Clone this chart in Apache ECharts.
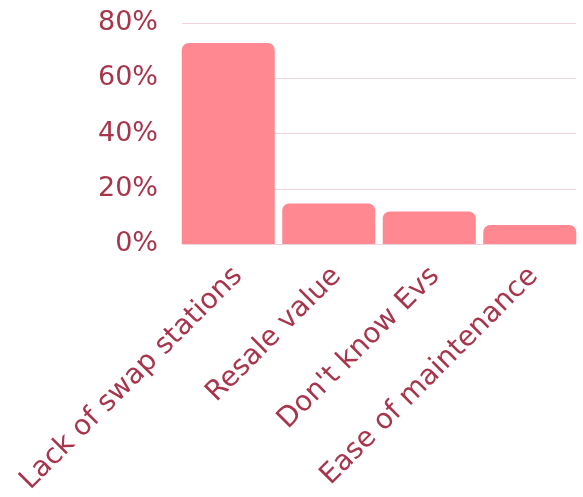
<!DOCTYPE html>
<html>
<head>
<meta charset="utf-8">
<script src="https://cdn.jsdelivr.net/npm/echarts@6/dist/echarts.min.js"></script>
<style>html,body{margin:0;padding:0;background:#fff;}#c{width:583px;height:497px;}</style>
</head>
<body>
<div id="c"></div>
<script>
const categories = ["Lack of swap stations", "Resale value", "Don't know Evs", "Ease of maintenance"];
const values = [72.8, 14.7, 11.8, 6.9];
const yTicks = [0, 20, 40, 60, 80];

const chart = echarts.init(document.getElementById('c'), null, {renderer: 'canvas'});
const textColor = '#a8354b';
const font = 'DejaVu Sans';
const labelShift = 11;
chart.setOption({
  animation: false,
  grid: [
    {left: 182, right: 7, top: 23, bottom: 253},
    {left: 178, right: 3, top: 23, bottom: 253},
    {left: 178 + labelShift, right: 3 - labelShift, top: 23, bottom: 253}
  ],
  xAxis: [
    {gridIndex: 0, type: 'value', show: false, min: 0, max: 1},
    {gridIndex: 1, type: 'category', data: categories, show: false},
    {gridIndex: 2, type: 'category', data: categories,
     axisLine: {show: false}, axisTick: {show: false},
     axisLabel: {rotate: 45, margin: 38, color: textColor, fontSize: 28, fontFamily: font}}
  ],
  yAxis: [
    {gridIndex: 0, type: 'value', min: 0, max: 80, interval: 20,
     axisLine: {show: false}, axisTick: {show: false},
     splitLine: {lineStyle: {color: '#f2d3da', width: 1}},
     axisLabel: {margin: 24, color: textColor, fontSize: 27, fontFamily: font,
       formatter: v => yTicks.includes(v) ? v + '%' : ''}},
    {gridIndex: 1, type: 'value', min: 0, max: 80, interval: 20, show: false, splitLine: {show: false}},
    {gridIndex: 2, type: 'value', min: 0, max: 80, interval: 20, show: false, splitLine: {show: false}}
  ],
  series: [{
    type: 'bar', xAxisIndex: 1, yAxisIndex: 1, data: values, barWidth: 93,
    itemStyle: {color: '#ff8891', borderRadius: [7, 7, 0, 0]}
  }]
});
</script>
</body>
</html>
